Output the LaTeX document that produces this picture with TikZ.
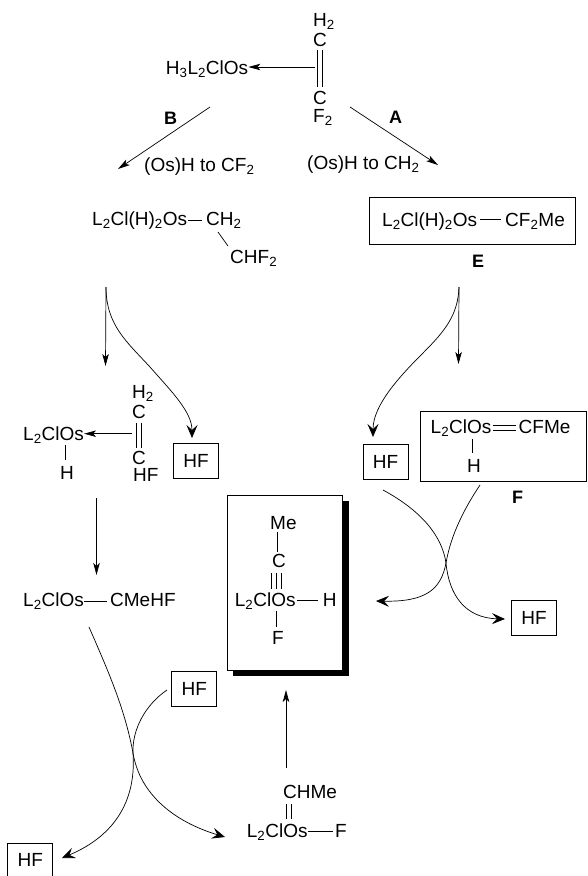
\documentclass[tikz,border=0pt]{standalone}
\usepackage{fontspec}
\setmainfont{Liberation Sans}
\usetikzlibrary{arrows.meta}
\newcommand{\lowr}[1]{\textsubscript{#1}}
\begin{document}
\begin{tikzpicture}[
    x=1pt, y=-1pt,
    every node/.style={inner sep=0pt, font=\fontsize{19}{22}\selectfont},
    chem/.style={anchor=base west},
    tag/.style={anchor=base west, font=\fontsize{18}{22}\selectfont\bfseries},
    bond/.style={draw, line width=0.7pt},
    dbl/.style={draw, double, double distance=4.4pt, line width=0.7pt},
    rxn/.style={draw, line width=0.7pt, -{Stealth[length=12pt, width=6.5pt, inset=3pt]}},
    curly/.style={draw, line width=0.7pt, -{Stealth[length=13pt, width=11pt, inset=5pt]}},
    hfbox/.style={draw, line width=0.8pt, minimum width=45pt, minimum height=35pt},
    frame/.style={draw, line width=0.8pt, fill=white}
]
\useasboundingbox (0,0) rectangle (587,876);

% Olefin on top
\node[chem] (h2top) at (313,26.5) {H\lowr{2}};
\node[chem] (ctop) at (313,46) {C};
\node[chem] (cbot) at (313,104) {C};
\node[chem] (f2top) at (313,122) {F\lowr{2}};
\node[chem] (os0) at (165.7,74) {H\lowr{3}L\lowr{2}ClOs};
\draw[dbl, shorten <=4pt, shorten >=3.4pt] (ctop.south) -- (cbot.north);
\coordinate (pi0) at (315,67);
\draw[rxn] (pi0) -- (os0.east |- pi0);

% Branches A and B
\coordinate (bstart) at (210,107);
\coordinate (bend) at (118,169);
\coordinate (astart) at (350,107);
\coordinate (aend) at (438,165);
\draw[rxn] (bstart) -- (bend);
\draw[rxn] (astart) -- (aend);
\node[tag] (tagb) at (164,124) {B};
\node[tag] (taga) at (389,123) {A};
\node[chem] (toc) at (144,171) {(Os)H to CF\lowr{2}};
\node[chem] (toh) at (307,169) {(Os)H to CH\lowr{2}};

% Left hydride
\node[chem] (osl) at (92,225) {L\lowr{2}Cl(H)\lowr{2}Os};
\node[chem] (ch2) at (206,225) {CH\lowr{2}};
\node[chem] (chf2) at (230,263) {CHF\lowr{2}};
\coordinate (kink) at (218,232);
\coordinate (kinkb) at (228,246);
\draw[bond, shorten <=1pt, shorten >=4pt] (osl.east |- 0,220.5) -- (ch2.west |- 0,220.5);
\draw[bond] (kink) -- (kinkb);

% Boxed E
\node[frame, minimum width=206pt, minimum height=47pt] (boxe) at (472,220.5) {};
\node[chem] (ose) at (382,226) {L\lowr{2}Cl(H)\lowr{2}Os};
\node[chem] (cfme) at (505,226) {CF\lowr{2}Me};
\draw[bond, shorten <=3pt, shorten >=4pt] (ose.east |- 0,219) -- (cfme.west |- 0,219);
\node[tag] (tage) at (472,267) {E};

% Arrows out of the hydrides
\coordinate (ls) at (106,287);
\coordinate (rs) at (459,287);
\coordinate (ld) at (105.5,366);
\coordinate (rd) at (458.5,364);
\coordinate (lhf) at (192,438);
\coordinate (rhf) at (373,437);
\draw[rxn] (ls) -- (ld);
\draw[rxn] (rs) -- (rd);
\draw[curly] (ls) .. controls (106,325) and (127,342) .. (150,367)
    .. controls (172,392) and (192,412) .. (lhf);
\draw[curly] (rs) .. controls (458,315) and (445,331) .. (423,353)
    .. controls (400,376) and (373,405) .. (rhf);

% Left pi complex
\node[chem] (osp) at (23,440) {L\lowr{2}ClOs};
\node[chem] (hp) at (60,479) {H};
\node[chem] (h2p) at (132,398.5) {H\lowr{2}};
\node[chem] (cp) at (132,418) {C};
\node[chem] (cq) at (132,464) {C};
\node[chem] (hfp) at (133,481.7) {HF};
\coordinate (pi1) at (132,433.7);
\draw[dbl, shorten <=5pt, shorten >=3pt] (cp.south) -- (cq.north);
\draw[rxn] (pi1) -- (osp.east |- pi1);
\coordinate (vh) at (65.5,445);
\coordinate (vi) at (65.5,460);
\draw[bond] (vh) -- (vi);
\node[hfbox] (hf1) at (196,461) {HF};

% Right carbene in its box
\node[hfbox] (hf2) at (385.5,461.5) {HF};
\node[frame, minimum width=165.6pt, minimum height=70pt] (boxf) at (503.2,446) {};
\node[chem] (osf) at (430.5,433) {L\lowr{2}ClOs};
\node[chem] (cfm) at (518.5,433) {CFMe};
\node[chem] (hf) at (467,472) {H};
\node[tag] (tagf) at (512,503) {F};
\draw[bond, shorten <=1.5pt, shorten >=3pt] (osf.east |- 0,425) -- (cfm.west |- 0,425);
\draw[bond, shorten <=1.5pt, shorten >=3pt] (osf.east |- 0,430) -- (cfm.west |- 0,430);
\coordinate (vj) at (472.5,439);
\coordinate (vk) at (472.5,453);
\draw[bond] (vj) -- (vk);

% Central carbyne with thick shadow
\node[fill=black, minimum width=115.8pt, minimum height=175pt] (shade) at (290.6,588.5) {};
\node[frame, minimum width=115.6pt, minimum height=175pt] (boxm) at (284.8,583.3) {};
\node[chem] (me) at (270,529) {Me};
\node[chem] (cm) at (272,567) {C};
\node[chem] (osm) at (234.7,606) {L\lowr{2}ClOs};
\node[chem] (hm) at (322.7,606) {H};
\node[chem] (fm) at (272,644) {F};
\coordinate (ma) at (277,532);
\coordinate (mb) at (277,552);
\coordinate (mc) at (276.6,573);
\coordinate (md) at (276.6,589);
\coordinate (me2) at (276.7,610.7);
\coordinate (mf) at (276.7,626.7);
\draw[bond] (ma) -- (mb);
\draw[dbl, double distance=9.2pt] (mc) -- (md);
\draw[bond] (mc) -- (md);
\draw[bond] (me2) -- (mf);
\draw[bond, shorten <=1pt, shorten >=5pt] (osm.east |- 0,600) -- (hm.west |- 0,600);

% Right crossing arrows
\node[hfbox] (hf3) at (534,617.5) {HF};
\coordinate (ra) at (383,490);
\coordinate (rb) at (480,485);
\coordinate (rc) at (505,619);
\coordinate (rdd) at (376,601);
\draw[curly] (ra) .. controls (420,510) and (442,535) .. (446,563)
    .. controls (449,595) and (465,618) .. (rc);
\draw[curly] (rb) .. controls (460,515) and (450,540) .. (446,563)
    .. controls (441,590) and (425,602) .. (rdd);

% Left column down
\coordinate (le) at (96.5,498);
\coordinate (lf) at (96.5,575);
\draw[rxn] (le) -- (lf);
\node[chem] (osc) at (23,606) {L\lowr{2}ClOs};
\node[chem] (cmh) at (110,606) {CMeHF};
\draw[bond, shorten >=3pt] (osc.east |- 0,601) -- (cmh.west |- 0,601);

% Bottom crossing arrows
\node[hfbox] (hf4) at (194.2,688.5) {HF};
\node[hfbox, minimum height=33pt] (hf5) at (30.3,860) {HF};
\coordinate (ba) at (89,627);
\coordinate (bb) at (167,690);
\coordinate (bc) at (225,837);
\coordinate (bd) at (62,858);
\draw[curly] (ba) .. controls (110,675) and (125,710) .. (133,753)
    .. controls (140,795) and (175,822) .. (bc);
\draw[curly] (bb) .. controls (145,705) and (132,730) .. (133,753)
    .. controls (137,810) and (105,840) .. (bd);

% Vinylidene-type product
\node[chem] (chm) at (283,798) {CHMe};
\node[chem] (osb) at (246.7,837) {L\lowr{2}ClOs};
\node[chem] (fb) at (335,837) {F};
\coordinate (bg) at (288.8,804);
\coordinate (bh) at (288.8,819);
\draw[dbl, double distance=4.6pt] (bg) -- (bh);
\draw[bond, shorten >=2pt] (osb.east |- 0,831.7) -- (fb.west |- 0,831.7);
\coordinate (up) at (286,768);
\coordinate (uptip) at (286,690);
\draw[rxn] (up) -- (uptip);
\end{tikzpicture}
\end{document}
